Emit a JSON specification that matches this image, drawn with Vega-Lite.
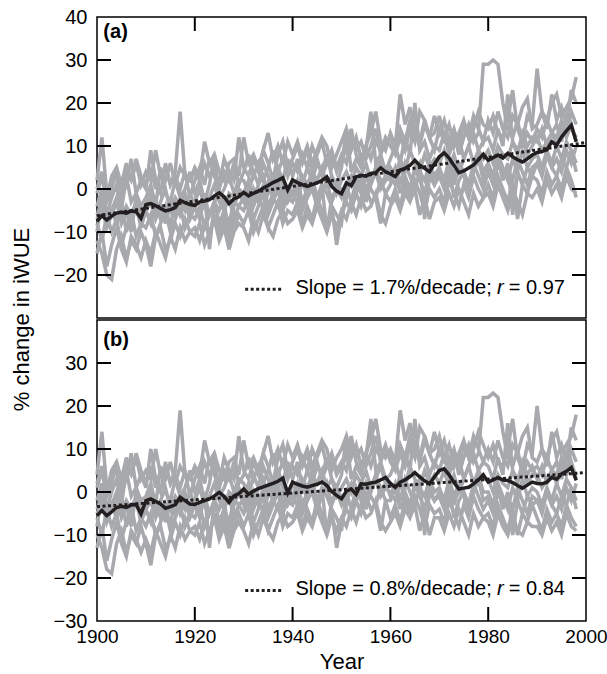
{
"$schema": "https://vega.github.io/schema/vega-lite/v6.json",
"padding": {"left": 11, "top": 6, "right": 0, "bottom": 0},
"title": {"text": "% change in iWUE", "orient": "left", "anchor": "middle", "fontSize": 22, "fontWeight": "normal", "font": "Liberation Sans", "color": "black", "offset": 18, "dx": 20},
"spacing": 0,
"datasets": {
"a": [
{"t":1900,"A":2,"B":-1,"C":-4,"D":-6,"E":-10,"F":-8,"G":-12,"H":-15,"I":0,"J":-7,"m":-7.5},
{"t":1901,"A":12,"B":3,"C":0,"D":-3,"E":-2,"F":-12,"G":-15,"H":-10,"I":4,"J":-4,"m":-6.2},
{"t":1902,"A":-1,"B":-3,"C":-6,"D":-8,"E":-9,"F":-6,"G":-20,"H":-18,"I":-2,"J":-9,"m":-7.2},
{"t":1903,"A":1,"B":0,"C":-2,"D":-5,"E":-5,"F":-10,"G":-21,"H":-13,"I":3,"J":-6,"m":-6.3},
{"t":1904,"A":3,"B":5,"C":1,"D":-2,"E":-8,"F":-7,"G":-14,"H":-9,"I":5,"J":-3,"m":-5.6},
{"t":1905,"A":0,"B":-2,"C":-5,"D":-7,"E":-3,"F":-13,"G":-11,"H":-14,"I":1,"J":-8,"m":-5.4},
{"t":1906,"A":4,"B":1,"C":3,"D":-4,"E":-10,"F":-9,"G":-16,"H":-17,"I":6,"J":-5,"m":-5.6},
{"t":1907,"A":2,"B":7,"C":-3,"D":-6,"E":-6,"F":-5,"G":-12,"H":-11,"I":2,"J":-10,"m":-5.1},
{"t":1908,"A":6,"B":-1,"C":-1,"D":-3,"E":-4,"F":-11,"G":-14,"H":-13,"I":7,"J":-2,"m":-5.3},
{"t":1909,"A":1,"B":2,"C":-4,"D":-7,"E":-9,"F":-8,"G":-10,"H":-16,"I":3,"J":-6,"m":-6.8},
{"t":1910,"A":4,"B":0,"C":-2,"D":-4,"E":-5,"F":-9,"G":-13,"H":-12,"I":1,"J":-5,"m":-3.6},
{"t":1911,"A":2,"B":9,"C":1,"D":-1,"E":-8,"F":-6,"G":-18,"H":-15,"I":5,"J":-3,"m":-3.4},
{"t":1912,"A":9,"B":2,"C":-4,"D":-6,"E":-3,"F":-11,"G":-11,"H":-10,"I":0,"J":-7,"m":-3.9},
{"t":1913,"A":3,"B":-1,"C":5,"D":-3,"E":-7,"F":-8,"G":-9,"H":-13,"I":4,"J":-4,"m":-4.5},
{"t":1914,"A":5,"B":6,"C":-1,"D":0,"E":-4,"F":-5,"G":-14,"H":-16,"I":2,"J":-8,"m":-5.1},
{"t":1915,"A":1,"B":1,"C":-3,"D":-5,"E":-9,"F":-10,"G":-12,"H":-11,"I":6,"J":-2,"m":-4.8},
{"t":1916,"A":4,"B":3,"C":2,"D":-2,"E":-2,"F":-7,"G":-8,"H":-14,"I":1,"J":-6,"m":-4.3},
{"t":1917,"A":18,"B":0,"C":-2,"D":-4,"E":-6,"F":-4,"G":-11,"H":-9,"I":5,"J":-3,"m":-2.6},
{"t":1918,"A":3,"B":4,"C":0,"D":-1,"E":-3,"F":-9,"G":-7,"H":-12,"I":3,"J":-5,"m":-3.2},
{"t":1919,"A":2,"B":-2,"C":4,"D":-5,"E":-7,"F":-6,"G":-10,"H":-10,"I":2,"J":-1,"m":-3.6},
{"t":1920,"A":5,"B":2,"C":-1,"D":-3,"E":-4,"F":-7,"G":-9,"H":-11,"I":4,"J":-4,"m":-3.8},
{"t":1921,"A":3,"B":5,"C":2,"D":0,"E":-7,"F":-4,"G":-12,"H":-8,"I":2,"J":-6,"m":-3.0},
{"t":1922,"A":11,"B":1,"C":-3,"D":-4,"E":-2,"F":-9,"G":-8,"H":-13,"I":6,"J":-1,"m":-2.8},
{"t":1923,"A":6,"B":7,"C":1,"D":-2,"E":-6,"F":-6,"G":-11,"H":-10,"I":3,"J":-14,"m":-2.5},
{"t":1924,"A":8,"B":3,"C":8,"D":1,"E":-3,"F":-3,"G":-6,"H":-7,"I":5,"J":-3,"m":-1.6},
{"t":1925,"A":4,"B":0,"C":-2,"D":-3,"E":-1,"F":-8,"G":-10,"H":-12,"I":1,"J":-5,"m":-0.9},
{"t":1926,"A":2,"B":4,"C":0,"D":-5,"E":-5,"F":-5,"G":-7,"H":-9,"I":7,"J":-2,"m":-1.8},
{"t":1927,"A":6,"B":2,"C":3,"D":-1,"E":-8,"F":-2,"G":-14,"H":-14,"I":4,"J":-13,"m":-3.4},
{"t":1928,"A":7,"B":6,"C":-1,"D":-2,"E":-3,"F":-7,"G":-9,"H":-10,"I":2,"J":-4,"m":-2.3},
{"t":1929,"A":3,"B":1,"C":2,"D":0,"E":-4,"F":-4,"G":-6,"H":-8,"I":12,"J":-1,"m":-1.8},
{"t":1930,"A":12,"B":4,"C":2,"D":-1,"E":-2,"F":-5,"G":-8,"H":-9,"I":5,"J":-3,"m":-0.8},
{"t":1931,"A":6,"B":8,"C":-1,"D":2,"E":-5,"F":-2,"G":-5,"H":-12,"I":3,"J":0,"m":-1.6},
{"t":1932,"A":8,"B":3,"C":4,"D":-2,"E":0,"F":-7,"G":-10,"H":-7,"I":7,"J":-4,"m":-1.0},
{"t":1933,"A":5,"B":6,"C":1,"D":1,"E":-3,"F":-4,"G":-7,"H":-10,"I":4,"J":-1,"m":-0.5},
{"t":1934,"A":9,"B":2,"C":6,"D":3,"E":1,"F":-1,"G":-4,"H":-6,"I":9,"J":-5,"m":0.2},
{"t":1935,"A":13,"B":5,"C":3,"D":-1,"E":-4,"F":-6,"G":-9,"H":-9,"I":6,"J":1,"m":0.8},
{"t":1936,"A":7,"B":9,"C":0,"D":2,"E":-1,"F":-3,"G":-6,"H":-11,"I":2,"J":-2,"m":1.5},
{"t":1937,"A":10,"B":4,"C":5,"D":4,"E":2,"F":0,"G":-3,"H":-7,"I":8,"J":-4,"m":2.0},
{"t":1938,"A":6,"B":7,"C":2,"D":1,"E":-3,"F":-5,"G":-8,"H":-5,"I":11,"J":0,"m":2.6},
{"t":1939,"A":11,"B":3,"C":7,"D":-2,"E":0,"F":-2,"G":-5,"H":-8,"I":5,"J":-3,"m":-0.2},
{"t":1940,"A":8,"B":6,"C":3,"D":2,"E":-1,"F":-3,"G":-6,"H":-7,"I":7,"J":-1,"m":2.1},
{"t":1941,"A":11,"B":4,"C":7,"D":0,"E":2,"F":0,"G":-3,"H":-5,"I":10,"J":-3,"m":1.5},
{"t":1942,"A":7,"B":8,"C":1,"D":3,"E":-3,"F":-5,"G":-8,"H":-9,"I":6,"J":2,"m":1.0},
{"t":1943,"A":10,"B":5,"C":5,"D":1,"E":0,"F":-2,"G":-4,"H":-6,"I":9,"J":-2,"m":0.6},
{"t":1944,"A":6,"B":10,"C":2,"D":4,"E":3,"F":1,"G":-7,"H":-8,"I":4,"J":0,"m":1.0},
{"t":1945,"A":9,"B":7,"C":6,"D":2,"E":-2,"F":-4,"G":-2,"H":-4,"I":8,"J":-4,"m":1.4},
{"t":1946,"A":12,"B":3,"C":4,"D":5,"E":1,"F":-1,"G":-5,"H":-7,"I":11,"J":1,"m":2.0},
{"t":1947,"A":10,"B":6,"C":8,"D":1,"E":-1,"F":2,"G":-9,"H":-10,"I":6,"J":-10,"m":2.8},
{"t":1948,"A":5,"B":8,"C":3,"D":3,"E":-4,"F":-3,"G":-4,"H":-6,"I":9,"J":-2,"m":0.6},
{"t":1949,"A":8,"B":4,"C":1,"D":-1,"E":-6,"F":0,"G":-13,"H":-9,"I":5,"J":0,"m":-0.5},
{"t":1950,"A":11,"B":7,"C":5,"D":2,"E":-8,"F":-2,"G":-6,"H":-5,"I":8,"J":0,"m":-1.1},
{"t":1951,"A":14,"B":9,"C":14,"D":4,"E":1,"F":1,"G":-3,"H":-7,"I":6,"J":-2,"m":1.4},
{"t":1952,"A":9,"B":14,"C":4,"D":1,"E":3,"F":-3,"G":-5,"H":-3,"I":12,"J":3,"m":0.8},
{"t":1953,"A":12,"B":8,"C":7,"D":5,"E":-1,"F":2,"G":-1,"H":-6,"I":9,"J":-1,"m":2.8},
{"t":1954,"A":7,"B":6,"C":5,"D":3,"E":4,"F":-1,"G":-4,"H":-2,"I":11,"J":2,"m":3.2},
{"t":1955,"A":10,"B":10,"C":9,"D":6,"E":0,"F":3,"G":0,"H":-5,"I":7,"J":-3,"m":3.0},
{"t":1956,"A":13,"B":7,"C":18,"D":2,"E":2,"F":0,"G":-3,"H":-4,"I":10,"J":1,"m":3.6},
{"t":1957,"A":18,"B":11,"C":6,"D":4,"E":5,"F":-2,"G":-2,"H":-1,"I":14,"J":4,"m":3.8},
{"t":1958,"A":11,"B":9,"C":8,"D":7,"E":1,"F":2,"G":-8,"H":-6,"I":8,"J":0,"m":4.9},
{"t":1959,"A":9,"B":12,"C":4,"D":3,"E":3,"F":-1,"G":-1,"H":-8,"I":11,"J":2,"m":4.0},
{"t":1960,"A":13,"B":10,"C":7,"D":5,"E":2,"F":1,"G":-3,"H":-4,"I":12,"J":3,"m":3.5},
{"t":1961,"A":10,"B":8,"C":10,"D":3,"E":5,"F":4,"G":0,"H":-2,"I":9,"J":1,"m":2.9},
{"t":1962,"A":22,"B":12,"C":6,"D":7,"E":1,"F":-1,"G":-4,"H":-5,"I":14,"J":5,"m":4.4},
{"t":1963,"A":15,"B":9,"C":12,"D":4,"E":6,"F":3,"G":1,"H":-1,"I":11,"J":2,"m":4.8},
{"t":1964,"A":19,"B":14,"C":8,"D":9,"E":3,"F":0,"G":-2,"H":-3,"I":16,"J":0,"m":5.5},
{"t":1965,"A":14,"B":11,"C":20,"D":6,"E":0,"F":5,"G":2,"H":0,"I":13,"J":4,"m":6.7},
{"t":1966,"A":11,"B":18,"C":9,"D":4,"E":4,"F":2,"G":-1,"H":-6,"I":10,"J":6,"m":5.5},
{"t":1967,"A":16,"B":16,"C":11,"D":8,"E":2,"F":-1,"G":-5,"H":-2,"I":15,"J":-7,"m":4.8},
{"t":1968,"A":12,"B":12,"C":7,"D":5,"E":6,"F":4,"G":0,"H":-7,"I":12,"J":3,"m":4.0},
{"t":1969,"A":13,"B":9,"C":10,"D":7,"E":3,"F":1,"G":-2,"H":-3,"I":17,"J":1,"m":5.8},
{"t":1970,"A":17,"B":14,"C":9,"D":6,"E":5,"F":3,"G":0,"H":-2,"I":13,"J":4,"m":7.5},
{"t":1971,"A":12,"B":11,"C":13,"D":9,"E":2,"F":0,"G":-3,"H":-5,"I":16,"J":2,"m":8.4},
{"t":1972,"A":15,"B":10,"C":8,"D":5,"E":7,"F":5,"G":2,"H":-1,"I":11,"J":6,"m":7.2},
{"t":1973,"A":10,"B":13,"C":11,"D":8,"E":3,"F":-2,"G":-1,"H":-4,"I":14,"J":1,"m":5.5},
{"t":1974,"A":13,"B":8,"C":12,"D":4,"E":6,"F":2,"G":-4,"H":0,"I":10,"J":5,"m":3.8},
{"t":1975,"A":16,"B":12,"C":7,"D":7,"E":4,"F":4,"G":1,"H":-3,"I":15,"J":3,"m":4.2},
{"t":1976,"A":12,"B":15,"C":10,"D":10,"E":1,"F":1,"G":-2,"H":-6,"I":12,"J":0,"m":4.9},
{"t":1977,"A":14,"B":11,"C":13,"D":6,"E":5,"F":6,"G":3,"H":-1,"I":17,"J":4,"m":5.6},
{"t":1978,"A":18,"B":13,"C":9,"D":9,"E":8,"F":3,"G":0,"H":-4,"I":14,"J":7,"m":6.8},
{"t":1979,"A":15,"B":29,"C":11,"D":7,"E":4,"F":0,"G":-2,"H":-2,"I":11,"J":2,"m":8.1},
{"t":1980,"A":14,"B":29,"C":12,"D":9,"E":6,"F":4,"G":1,"H":-1,"I":16,"J":5,"m":6.7},
{"t":1981,"A":17,"B":30,"C":9,"D":6,"E":3,"F":1,"G":-2,"H":-4,"I":13,"J":3,"m":7.3},
{"t":1982,"A":13,"B":29,"C":14,"D":10,"E":8,"F":6,"G":3,"H":1,"I":18,"J":7,"m":7.9},
{"t":1983,"A":12,"B":20,"C":10,"D":8,"E":5,"F":3,"G":0,"H":-2,"I":14,"J":2,"m":7.2},
{"t":1984,"A":16,"B":14,"C":22,"D":7,"E":2,"F":5,"G":-3,"H":-5,"I":12,"J":6,"m":8.3},
{"t":1985,"A":23,"B":12,"C":11,"D":11,"E":7,"F":2,"G":2,"H":0,"I":17,"J":-6,"m":7.5},
{"t":1986,"A":14,"B":16,"C":8,"D":9,"E":4,"F":7,"G":-7,"H":-3,"I":15,"J":4,"m":6.8},
{"t":1987,"A":11,"B":10,"C":13,"D":12,"E":9,"F":4,"G":1,"H":-6,"I":19,"J":1,"m":6.3},
{"t":1988,"A":17,"B":13,"C":10,"D":8,"E":5,"F":1,"G":-1,"H":-1,"I":21,"J":5,"m":7.0},
{"t":1989,"A":15,"B":11,"C":12,"D":10,"E":7,"F":5,"G":3,"H":-2,"I":14,"J":3,"m":7.9},
{"t":1990,"A":28,"B":14,"C":11,"D":12,"E":8,"F":6,"G":2,"H":0,"I":15,"J":6,"m":8.5},
{"t":1991,"A":18,"B":12,"C":14,"D":9,"E":5,"F":3,"G":-1,"H":-3,"I":18,"J":4,"m":8.7},
{"t":1992,"A":16,"B":16,"C":10,"D":11,"E":9,"F":8,"G":4,"H":2,"I":14,"J":8,"m":9.1},
{"t":1993,"A":20,"B":13,"C":13,"D":13,"E":6,"F":5,"G":1,"H":-1,"I":22,"J":5,"m":11.0},
{"t":1994,"A":22,"B":15,"C":12,"D":10,"E":10,"F":7,"G":3,"H":1,"I":16,"J":3,"m":10.2},
{"t":1995,"A":17,"B":11,"C":16,"D":14,"E":7,"F":4,"G":0,"H":-2,"I":19,"J":7,"m":12.1},
{"t":1996,"A":19,"B":17,"C":13,"D":12,"E":11,"F":9,"G":5,"H":3,"I":15,"J":5,"m":13.5},
{"t":1997,"A":21,"B":14,"C":18,"D":15,"E":9,"F":6,"G":2,"H":0,"I":23,"J":9,"m":14.8},
{"t":1998,"A":26,"B":12,"C":15,"D":11,"E":6,"F":10,"G":-2,"H":-1,"I":20,"J":4,"m":11.0}
],
"b": [
{"t":1900,"A":4,"B":1,"C":-2,"D":-4,"E":-8,"F":-6,"G":-10,"H":-13,"I":2,"J":-5,"m":-5.5},
{"t":1901,"A":14,"B":5,"C":2,"D":-1,"E":0,"F":-10,"G":-13,"H":-8,"I":6,"J":-2,"m":-4.3},
{"t":1902,"A":1,"B":-1,"C":-4,"D":-6,"E":-7,"F":-4,"G":-18,"H":-16,"I":0,"J":-7,"m":-5.5},
{"t":1903,"A":3,"B":2,"C":0,"D":-3,"E":-3,"F":-8,"G":-19,"H":-11,"I":5,"J":-4,"m":-4.6},
{"t":1904,"A":5,"B":7,"C":3,"D":0,"E":-6,"F":-5,"G":-12,"H":-7,"I":7,"J":-1,"m":-3.6},
{"t":1905,"A":2,"B":0,"C":-3,"D":-5,"E":-1,"F":-11,"G":-9,"H":-12,"I":3,"J":-6,"m":-3.3},
{"t":1906,"A":6,"B":3,"C":5,"D":-2,"E":-8,"F":-7,"G":-14,"H":-15,"I":8,"J":-3,"m":-3.6},
{"t":1907,"A":4,"B":9,"C":-1,"D":-4,"E":-4,"F":-3,"G":-10,"H":-9,"I":4,"J":-8,"m":-3.0},
{"t":1908,"A":8,"B":1,"C":1,"D":-1,"E":-2,"F":-9,"G":-12,"H":-11,"I":9,"J":0,"m":-2.9},
{"t":1909,"A":3,"B":4,"C":-2,"D":-5,"E":-7,"F":-6,"G":-8,"H":-14,"I":5,"J":-4,"m":-5.1},
{"t":1910,"A":5,"B":1,"C":-1,"D":-3,"E":-4,"F":-8,"G":-12,"H":-11,"I":2,"J":-4,"m":-2.0},
{"t":1911,"A":3,"B":10,"C":2,"D":0,"E":-7,"F":-5,"G":-17,"H":-14,"I":6,"J":-2,"m":-1.6},
{"t":1912,"A":10,"B":3,"C":-3,"D":-5,"E":-2,"F":-10,"G":-10,"H":-9,"I":1,"J":-6,"m":-2.2},
{"t":1913,"A":4,"B":0,"C":6,"D":-2,"E":-6,"F":-7,"G":-8,"H":-12,"I":5,"J":-3,"m":-2.8},
{"t":1914,"A":6,"B":7,"C":0,"D":1,"E":-3,"F":-4,"G":-13,"H":-15,"I":3,"J":-7,"m":-3.8},
{"t":1915,"A":2,"B":2,"C":-2,"D":-4,"E":-8,"F":-9,"G":-11,"H":-10,"I":7,"J":-1,"m":-3.4},
{"t":1916,"A":5,"B":4,"C":3,"D":-1,"E":-1,"F":-6,"G":-7,"H":-13,"I":2,"J":-5,"m":-3.0},
{"t":1917,"A":19,"B":1,"C":-1,"D":-3,"E":-5,"F":-3,"G":-10,"H":-8,"I":6,"J":-2,"m":-1.2},
{"t":1918,"A":4,"B":5,"C":1,"D":0,"E":-2,"F":-8,"G":-6,"H":-11,"I":4,"J":-4,"m":-2.0},
{"t":1919,"A":3,"B":-1,"C":5,"D":-4,"E":-6,"F":-5,"G":-9,"H":-9,"I":3,"J":0,"m":-2.8},
{"t":1920,"A":6,"B":3,"C":0,"D":-2,"E":-3,"F":-6,"G":-8,"H":-10,"I":5,"J":-3,"m":-2.9},
{"t":1921,"A":4,"B":6,"C":3,"D":1,"E":-6,"F":-3,"G":-11,"H":-7,"I":3,"J":-5,"m":-2.4},
{"t":1922,"A":12,"B":2,"C":-2,"D":-3,"E":-1,"F":-8,"G":-7,"H":-12,"I":7,"J":0,"m":-2.0},
{"t":1923,"A":7,"B":8,"C":2,"D":-1,"E":-5,"F":-5,"G":-10,"H":-9,"I":4,"J":-13,"m":-1.6},
{"t":1924,"A":9,"B":4,"C":9,"D":2,"E":-2,"F":-2,"G":-5,"H":-6,"I":6,"J":-2,"m":-0.9},
{"t":1925,"A":5,"B":1,"C":-1,"D":-2,"E":0,"F":-7,"G":-9,"H":-11,"I":2,"J":-4,"m":-0.1},
{"t":1926,"A":3,"B":5,"C":1,"D":-4,"E":-4,"F":-4,"G":-6,"H":-8,"I":8,"J":-1,"m":-1.0},
{"t":1927,"A":7,"B":3,"C":4,"D":0,"E":-7,"F":-1,"G":-13,"H":-13,"I":5,"J":-12,"m":-2.4},
{"t":1928,"A":8,"B":7,"C":0,"D":-1,"E":-2,"F":-6,"G":-8,"H":-9,"I":3,"J":-3,"m":-0.9},
{"t":1929,"A":4,"B":2,"C":3,"D":1,"E":-3,"F":-3,"G":-5,"H":-7,"I":13,"J":0,"m":-0.4},
{"t":1930,"A":12,"B":4,"C":2,"D":-1,"E":-2,"F":-5,"G":-8,"H":-9,"I":5,"J":-3,"m":0.7},
{"t":1931,"A":6,"B":8,"C":-1,"D":2,"E":-5,"F":-2,"G":-5,"H":-12,"I":3,"J":0,"m":-0.5},
{"t":1932,"A":8,"B":3,"C":4,"D":-2,"E":0,"F":-7,"G":-10,"H":-7,"I":7,"J":-4,"m":0.2},
{"t":1933,"A":5,"B":6,"C":1,"D":1,"E":-3,"F":-4,"G":-7,"H":-10,"I":4,"J":-1,"m":0.8},
{"t":1934,"A":9,"B":2,"C":6,"D":3,"E":1,"F":-1,"G":-4,"H":-6,"I":9,"J":-5,"m":1.2},
{"t":1935,"A":13,"B":5,"C":3,"D":-1,"E":-4,"F":-6,"G":-9,"H":-9,"I":6,"J":1,"m":1.6},
{"t":1936,"A":7,"B":9,"C":0,"D":2,"E":-1,"F":-3,"G":-6,"H":-11,"I":2,"J":-2,"m":2.0},
{"t":1937,"A":10,"B":4,"C":5,"D":4,"E":2,"F":0,"G":-3,"H":-7,"I":8,"J":-4,"m":2.5},
{"t":1938,"A":6,"B":7,"C":2,"D":1,"E":-3,"F":-5,"G":-8,"H":-5,"I":11,"J":0,"m":3.2},
{"t":1939,"A":11,"B":3,"C":7,"D":-2,"E":0,"F":-2,"G":-5,"H":-8,"I":5,"J":-3,"m":-0.2},
{"t":1940,"A":8,"B":6,"C":3,"D":2,"E":-1,"F":-3,"G":-6,"H":-7,"I":7,"J":-1,"m":2.3},
{"t":1941,"A":11,"B":4,"C":7,"D":0,"E":2,"F":0,"G":-3,"H":-5,"I":10,"J":-3,"m":1.8},
{"t":1942,"A":7,"B":8,"C":1,"D":3,"E":-3,"F":-5,"G":-8,"H":-9,"I":6,"J":2,"m":1.4},
{"t":1943,"A":10,"B":5,"C":5,"D":1,"E":0,"F":-2,"G":-4,"H":-6,"I":9,"J":-2,"m":1.1},
{"t":1944,"A":6,"B":10,"C":2,"D":4,"E":3,"F":1,"G":-7,"H":-8,"I":4,"J":0,"m":1.5},
{"t":1945,"A":9,"B":7,"C":6,"D":2,"E":-2,"F":-4,"G":-2,"H":-4,"I":8,"J":-4,"m":1.8},
{"t":1946,"A":12,"B":3,"C":4,"D":5,"E":1,"F":-1,"G":-5,"H":-7,"I":11,"J":1,"m":2.3},
{"t":1947,"A":10,"B":6,"C":8,"D":1,"E":-1,"F":2,"G":-9,"H":-10,"I":6,"J":-10,"m":1.5},
{"t":1948,"A":5,"B":8,"C":3,"D":3,"E":-4,"F":-3,"G":-4,"H":-6,"I":9,"J":-2,"m":0.1},
{"t":1949,"A":8,"B":4,"C":1,"D":-1,"E":-6,"F":0,"G":-13,"H":-9,"I":5,"J":0,"m":-0.8},
{"t":1950,"A":10,"B":6,"C":4,"D":1,"E":-9,"F":-3,"G":-7,"H":-6,"I":7,"J":-1,"m":-1.6},
{"t":1951,"A":13,"B":8,"C":13,"D":3,"E":0,"F":0,"G":-4,"H":-8,"I":5,"J":-3,"m":0.2},
{"t":1952,"A":8,"B":13,"C":3,"D":0,"E":2,"F":-4,"G":-6,"H":-4,"I":11,"J":2,"m":0.7},
{"t":1953,"A":11,"B":7,"C":6,"D":4,"E":-2,"F":1,"G":-2,"H":-7,"I":8,"J":-2,"m":-0.5},
{"t":1954,"A":6,"B":5,"C":4,"D":2,"E":3,"F":-2,"G":-5,"H":-3,"I":10,"J":1,"m":1.9},
{"t":1955,"A":9,"B":9,"C":8,"D":5,"E":-1,"F":2,"G":-1,"H":-6,"I":6,"J":-4,"m":1.8},
{"t":1956,"A":12,"B":6,"C":17,"D":1,"E":1,"F":-1,"G":-4,"H":-5,"I":9,"J":0,"m":2.1},
{"t":1957,"A":17,"B":10,"C":5,"D":3,"E":4,"F":-3,"G":-3,"H":-2,"I":13,"J":3,"m":2.3},
{"t":1958,"A":10,"B":8,"C":7,"D":6,"E":0,"F":1,"G":-9,"H":-7,"I":7,"J":-1,"m":2.8},
{"t":1959,"A":8,"B":11,"C":3,"D":2,"E":2,"F":-2,"G":-2,"H":-9,"I":10,"J":1,"m":3.4},
{"t":1960,"A":10,"B":7,"C":4,"D":2,"E":-1,"F":-2,"G":-6,"H":-7,"I":9,"J":0,"m":2.0},
{"t":1961,"A":7,"B":5,"C":7,"D":0,"E":2,"F":1,"G":-3,"H":-5,"I":6,"J":-2,"m":1.1},
{"t":1962,"A":19,"B":9,"C":3,"D":4,"E":-2,"F":-4,"G":-7,"H":-8,"I":11,"J":2,"m":2.3},
{"t":1963,"A":12,"B":6,"C":9,"D":1,"E":3,"F":0,"G":-2,"H":-4,"I":8,"J":-1,"m":2.8},
{"t":1964,"A":16,"B":11,"C":5,"D":6,"E":0,"F":-3,"G":-5,"H":-6,"I":13,"J":-3,"m":3.6},
{"t":1965,"A":11,"B":8,"C":17,"D":3,"E":-3,"F":2,"G":-1,"H":-3,"I":10,"J":1,"m":4.5},
{"t":1966,"A":8,"B":15,"C":6,"D":1,"E":1,"F":-1,"G":-4,"H":-9,"I":7,"J":3,"m":3.5},
{"t":1967,"A":13,"B":13,"C":8,"D":5,"E":-1,"F":-4,"G":-8,"H":-5,"I":12,"J":-10,"m":2.6},
{"t":1968,"A":9,"B":9,"C":4,"D":2,"E":3,"F":1,"G":-3,"H":-10,"I":9,"J":0,"m":1.9},
{"t":1969,"A":10,"B":6,"C":7,"D":4,"E":0,"F":-2,"G":-5,"H":-6,"I":14,"J":-2,"m":3.5},
{"t":1970,"A":13,"B":10,"C":5,"D":2,"E":1,"F":-1,"G":-4,"H":-6,"I":9,"J":0,"m":5.0},
{"t":1971,"A":8,"B":7,"C":9,"D":5,"E":-2,"F":-4,"G":-7,"H":-9,"I":12,"J":-2,"m":5.4},
{"t":1972,"A":11,"B":6,"C":4,"D":1,"E":3,"F":1,"G":-2,"H":-5,"I":7,"J":2,"m":4.0},
{"t":1973,"A":6,"B":9,"C":7,"D":4,"E":-1,"F":-6,"G":-5,"H":-8,"I":10,"J":-3,"m":2.2},
{"t":1974,"A":9,"B":4,"C":8,"D":0,"E":2,"F":-2,"G":-8,"H":-4,"I":6,"J":1,"m":0.7},
{"t":1975,"A":12,"B":8,"C":3,"D":3,"E":0,"F":0,"G":-3,"H":-7,"I":11,"J":-1,"m":0.9},
{"t":1976,"A":8,"B":11,"C":6,"D":6,"E":-3,"F":-3,"G":-6,"H":-10,"I":8,"J":-4,"m":1.1},
{"t":1977,"A":10,"B":7,"C":9,"D":2,"E":1,"F":2,"G":-1,"H":-5,"I":13,"J":0,"m":1.9},
{"t":1978,"A":14,"B":9,"C":5,"D":5,"E":4,"F":-1,"G":-4,"H":-8,"I":10,"J":3,"m":2.8},
{"t":1979,"A":11,"B":22,"C":7,"D":3,"E":0,"F":-4,"G":-6,"H":-6,"I":7,"J":-2,"m":4.0},
{"t":1980,"A":8,"B":22,"C":6,"D":3,"E":0,"F":-2,"G":-5,"H":-7,"I":10,"J":-1,"m":2.3},
{"t":1981,"A":11,"B":23,"C":3,"D":0,"E":-3,"F":-5,"G":-8,"H":-10,"I":7,"J":-3,"m":2.8},
{"t":1982,"A":7,"B":22,"C":8,"D":4,"E":2,"F":0,"G":-3,"H":-5,"I":12,"J":1,"m":3.4},
{"t":1983,"A":6,"B":14,"C":4,"D":2,"E":-1,"F":-3,"G":-6,"H":-8,"I":8,"J":-4,"m":2.8},
{"t":1984,"A":10,"B":8,"C":16,"D":1,"E":-4,"F":-1,"G":-9,"H":-10,"I":6,"J":0,"m":2.7},
{"t":1985,"A":17,"B":6,"C":5,"D":5,"E":1,"F":-4,"G":-4,"H":-6,"I":11,"J":-10,"m":2.2},
{"t":1986,"A":8,"B":10,"C":2,"D":3,"E":-2,"F":1,"G":-10,"H":-9,"I":9,"J":-2,"m":1.5},
{"t":1987,"A":5,"B":4,"C":7,"D":6,"E":3,"F":-2,"G":-5,"H":-10,"I":13,"J":-5,"m":0.9},
{"t":1988,"A":11,"B":7,"C":4,"D":2,"E":-1,"F":-5,"G":-7,"H":-7,"I":15,"J":-1,"m":1.6},
{"t":1989,"A":9,"B":5,"C":6,"D":4,"E":1,"F":-1,"G":-3,"H":-8,"I":8,"J":-3,"m":2.3},
{"t":1990,"A":20,"B":6,"C":3,"D":4,"E":0,"F":-2,"G":-6,"H":-8,"I":7,"J":-2,"m":2.0},
{"t":1991,"A":10,"B":4,"C":6,"D":1,"E":-3,"F":-5,"G":-9,"H":-10,"I":10,"J":-4,"m":1.9},
{"t":1992,"A":8,"B":8,"C":2,"D":3,"E":1,"F":0,"G":-4,"H":-6,"I":6,"J":0,"m":2.3},
{"t":1993,"A":12,"B":5,"C":5,"D":5,"E":-2,"F":-3,"G":-7,"H":-9,"I":14,"J":-3,"m":3.4},
{"t":1994,"A":14,"B":7,"C":4,"D":2,"E":2,"F":-1,"G":-5,"H":-7,"I":8,"J":-5,"m":3.0},
{"t":1995,"A":9,"B":3,"C":8,"D":6,"E":-1,"F":-4,"G":-8,"H":-10,"I":11,"J":-1,"m":4.2},
{"t":1996,"A":11,"B":9,"C":5,"D":4,"E":3,"F":1,"G":-3,"H":-5,"I":7,"J":-3,"m":4.8},
{"t":1997,"A":13,"B":6,"C":10,"D":7,"E":1,"F":-2,"G":-6,"H":-8,"I":15,"J":1,"m":5.7},
{"t":1998,"A":18,"B":4,"C":7,"D":3,"E":-2,"F":2,"G":-8,"H":-9,"I":12,"J":-4,"m":2.7}
],
"ta": [{"t":1900,"v":-6.2},{"t":2000,"v":10.8}],
"tb": [{"t":1900,"v":-3.4},{"t":2000,"v":4.5}],
"yt": [{"v":-20},{"v":-10},{"v":0},{"v":10},{"v":20},{"v":30}],
"xt": [{"t":1920},{"t":1940},{"t":1960},{"t":1980}]
},
"vconcat": [
{
"width": 489, "height": 301,
"layer": [
{"data":{"name":"a"},"transform":[{"fold":["A","B","C","D","E","F","G","H","I","J"],"as":["s","v"]}],
 "mark":{"type":"line","color":"#a7a9ac","strokeWidth":3.5},
 "encoding":{
  "x":{"field":"t","type":"quantitative","scale":{"domain":[1900,2000],"nice":false,"zero":false},"axis":null},
  "y":{"field":"v","type":"quantitative","scale":{"domain":[-30,40],"nice":false,"zero":false},"axis":{"orient":"left","values":[-20,-10,0,10,20,30,40],"labelPadding":10,"title":null,"offset":-14,"tickSize":14,"ticks":true,"tickOpacity":0}},
  "detail":{"field":"s","type":"nominal"}}},
{"data":{"name":"ta"},
 "mark":{"type":"line","color":"#231f20","strokeWidth":3,"strokeDash":[3,2.5]},
 "encoding":{
  "x":{"field":"t","type":"quantitative","scale":{"domain":[1900,2000],"nice":false,"zero":false},"axis":null},
  "y":{"field":"v","type":"quantitative","scale":{"domain":[-30,40],"nice":false,"zero":false},"axis":null}}},
{"data":{"name":"a"},
 "mark":{"type":"line","color":"#231f20","strokeWidth":3.5},
 "encoding":{
  "x":{"field":"t","type":"quantitative","scale":{"domain":[1900,2000],"nice":false,"zero":false},"axis":null},
  "y":{"field":"m","type":"quantitative","scale":{"domain":[-30,40],"nice":false,"zero":false},"axis":null}}},
{"data":{"name":"yt"},
 "mark":{"type":"rule","color":"black","strokeWidth":2},
 "encoding":{
  "y":{"field":"v","type":"quantitative","axis":null},
  "x":{"datum":1900,"type":"quantitative","axis":null},"x2":{"datum":1902.86}}},
{"data":{"name":"yt"},
 "mark":{"type":"rule","color":"black","strokeWidth":2},
 "encoding":{
  "y":{"field":"v","type":"quantitative","axis":null},
  "x":{"datum":1997.14,"type":"quantitative","axis":null},"x2":{"datum":2000}}},
{"data":{"name":"xt"},
 "mark":{"type":"rule","color":"black","strokeWidth":2},
 "encoding":{
  "x":{"field":"t","type":"quantitative","axis":null},
  "y":{"datum":40,"type":"quantitative","axis":null},"y2":{"datum":36.74}}},
{"data":{"values":[{}]},
 "mark":{"type":"rule","color":"#231f20","strokeWidth":3,"strokeDash":[3,2.5]},
 "encoding":{
  "x":{"datum":1930.3,"type":"quantitative","axis":null},"x2":{"datum":1938},
  "y":{"datum":-23.3,"type":"quantitative","axis":null}}},
{"data":{"values":[{}]},
 "mark":{"type":"text","align":"left","baseline":"alphabetic","fontSize":20,"color":"black"},
 "encoding":{"x":{"datum":1940.6,"type":"quantitative","axis":null},"y":{"datum":-24.5,"type":"quantitative","axis":null},"text":{"value":"Slope = 1.7%/decade;"}}},
{"data":{"values":[{}]},
 "mark":{"type":"text","align":"left","baseline":"alphabetic","fontSize":20,"fontStyle":"italic","color":"black"},
 "encoding":{"x":{"datum":1981.8,"type":"quantitative","axis":null},"y":{"datum":-24.5,"type":"quantitative","axis":null},"text":{"value":"r"}}},
{"data":{"values":[{}]},
 "mark":{"type":"text","align":"left","baseline":"alphabetic","fontSize":20,"color":"black"},
 "encoding":{"x":{"datum":1984.2,"type":"quantitative","axis":null},"y":{"datum":-24.5,"type":"quantitative","axis":null},"text":{"value":"= 0.97"}}},
{"data":{"values":[{}]},
 "mark":{"type":"text","align":"left","baseline":"middle","fontSize":20,"fontWeight":"bold","color":"black"},
 "encoding":{"x":{"datum":1901.3,"type":"quantitative","axis":null},"y":{"datum":36.5,"type":"quantitative","axis":null},"text":{"value":"(a)"}}}
],
"resolve":{"axis":{"x":"independent","y":"independent"}}
},
{
"width": 489, "height": 301,
"layer": [
{"data":{"name":"b"},"transform":[{"fold":["A","B","C","D","E","F","G","H","I","J"],"as":["s","v"]}],
 "mark":{"type":"line","color":"#a7a9ac","strokeWidth":3.5},
 "encoding":{
  "x":{"field":"t","type":"quantitative","scale":{"domain":[1900,2000],"nice":false,"zero":false},"axis":{"orient":"bottom","values":[1900,1920,1940,1960,1980,2000],"format":"d","labelFontSize":19,"labelPadding":6,"title":"Year","titlePadding":5,"offset":-14,"tickSize":14,"ticks":true,"tickOpacity":0}},
  "y":{"field":"v","type":"quantitative","scale":{"domain":[-30,40],"nice":false,"zero":false},"axis":{"orient":"left","values":[-30,-20,-10,0,10,20,30],"labelPadding":10,"title":null,"offset":-14,"tickSize":14,"ticks":true,"tickOpacity":0}},
  "detail":{"field":"s","type":"nominal"}}},
{"data":{"name":"tb"},
 "mark":{"type":"line","color":"#231f20","strokeWidth":3,"strokeDash":[3,2.5]},
 "encoding":{
  "x":{"field":"t","type":"quantitative","scale":{"domain":[1900,2000],"nice":false,"zero":false},"axis":null},
  "y":{"field":"v","type":"quantitative","scale":{"domain":[-30,40],"nice":false,"zero":false},"axis":null}}},
{"data":{"name":"b"},
 "mark":{"type":"line","color":"#231f20","strokeWidth":3.5},
 "encoding":{
  "x":{"field":"t","type":"quantitative","scale":{"domain":[1900,2000],"nice":false,"zero":false},"axis":null},
  "y":{"field":"m","type":"quantitative","scale":{"domain":[-30,40],"nice":false,"zero":false},"axis":null}}},
{"data":{"name":"yt"},
 "mark":{"type":"rule","color":"black","strokeWidth":2},
 "encoding":{
  "y":{"field":"v","type":"quantitative","axis":null},
  "x":{"datum":1900,"type":"quantitative","axis":null},"x2":{"datum":1902.86}}},
{"data":{"name":"yt"},
 "mark":{"type":"rule","color":"black","strokeWidth":2},
 "encoding":{
  "y":{"field":"v","type":"quantitative","axis":null},
  "x":{"datum":1997.14,"type":"quantitative","axis":null},"x2":{"datum":2000}}},
{"data":{"name":"xt"},
 "mark":{"type":"rule","color":"black","strokeWidth":2},
 "encoding":{
  "x":{"field":"t","type":"quantitative","axis":null},
  "y":{"datum":-30,"type":"quantitative","axis":null},"y2":{"datum":-26.74}}},
{"data":{"values":[{}]},
 "mark":{"type":"rule","color":"#231f20","strokeWidth":3,"strokeDash":[3,2.5]},
 "encoding":{
  "x":{"datum":1930.3,"type":"quantitative","axis":null},"x2":{"datum":1938},
  "y":{"datum":-22.9,"type":"quantitative","axis":null}}},
{"data":{"values":[{}]},
 "mark":{"type":"text","align":"left","baseline":"alphabetic","fontSize":20,"color":"black"},
 "encoding":{"x":{"datum":1940.6,"type":"quantitative","axis":null},"y":{"datum":-24.0,"type":"quantitative","axis":null},"text":{"value":"Slope = 0.8%/decade;"}}},
{"data":{"values":[{}]},
 "mark":{"type":"text","align":"left","baseline":"alphabetic","fontSize":20,"fontStyle":"italic","color":"black"},
 "encoding":{"x":{"datum":1981.8,"type":"quantitative","axis":null},"y":{"datum":-24.0,"type":"quantitative","axis":null},"text":{"value":"r"}}},
{"data":{"values":[{}]},
 "mark":{"type":"text","align":"left","baseline":"alphabetic","fontSize":20,"color":"black"},
 "encoding":{"x":{"datum":1984.2,"type":"quantitative","axis":null},"y":{"datum":-24.0,"type":"quantitative","axis":null},"text":{"value":"= 0.84"}}},
{"data":{"values":[{}]},
 "mark":{"type":"text","align":"left","baseline":"middle","fontSize":20,"fontWeight":"bold","color":"black"},
 "encoding":{"x":{"datum":1901.3,"type":"quantitative","axis":null},"y":{"datum":35.3,"type":"quantitative","axis":null},"text":{"value":"(b)"}}}
],
"resolve":{"axis":{"x":"independent","y":"independent"}}
}
],
"config": {
 "font": "Liberation Sans",
 "view": {"stroke": "black", "strokeWidth": 1.5},
 "axis": {"domain": false, "grid": false, "labelFontSize": 20, "labelColor": "black", "labelFont": "Liberation Sans", "titleFontSize": 22, "titleFontWeight": "normal", "titleColor": "black", "titleFont": "Liberation Sans", "labelFlush": false, "labelOverlap": false},
 "text": {"font": "Liberation Sans"}
}
}
